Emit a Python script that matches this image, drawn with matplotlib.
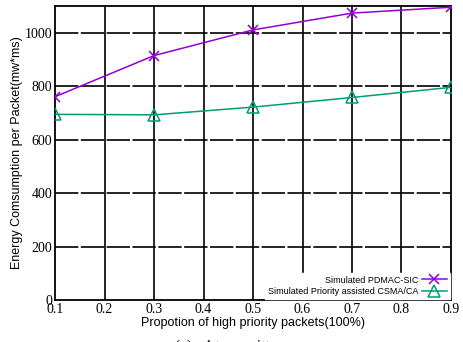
import matplotlib.pyplot as plt

x = [0.1, 0.3, 0.5, 0.7, 0.9]
pdmac = [761, 915, 1011, 1074, 1096]
csma = [695, 693, 722, 758, 796]
xticks = [0.1, 0.2, 0.3, 0.4, 0.5, 0.6, 0.7, 0.8, 0.9]
yticks = [0, 200, 400, 600, 800, 1000]

fig = plt.figure(figsize=(4.63, 3.42), dpi=100)
ax = fig.add_axes([0.119, 0.123, 0.855, 0.859])

ax.plot(x, pdmac, color='#9400d3', marker='x', markersize=7, mew=1.1,
        linewidth=1.1, label='Simulated PDMAC-SIC', zorder=3)
ax.plot(x, csma, color='#009e73', marker='^', markersize=8, mfc='none', mew=1.1,
        linewidth=1.1, label='Simulated Priority assisted CSMA/CA', zorder=3)

# grid: solid verticals, long-dash horizontals
for t in xticks[1:-1]:
    ax.axvline(t, color='black', linewidth=1.2, zorder=1)
for t in yticks[1:]:
    ax.axhline(t, color='black', linewidth=1.2, dashes=(14, 1.5), zorder=1)

ax.set_xlim(0.1, 0.9)
ax.set_ylim(0, 1100)
ax.set_xticks(xticks)
ax.set_yticks(yticks)
ax.set_xticklabels([str(t) for t in xticks], family='Liberation Serif', fontsize=10)
ax.set_yticklabels([str(t) for t in yticks], family='Liberation Serif', fontsize=10)
ax.tick_params(direction='in', length=0, pad=2)
for s in ax.spines.values():
    s.set_linewidth(1.3)

ax.set_xlabel('Propotion of high priority packets(100%)', family='Liberation Sans',
              fontsize=9, labelpad=1)
ax.set_ylabel('Energy Comsumption per Packet(mw*ms)', family='Liberation Sans',
              fontsize=9, labelpad=1)

leg = ax.legend(loc='lower right', markerfirst=False, frameon=True, fancybox=False,
                edgecolor='white', framealpha=1, prop={'family': 'Liberation Sans', 'size': 6.5},
                borderpad=0.3, handlelength=2.8, handletextpad=0.4, labelspacing=0.25,
                borderaxespad=0.15)
for t in leg.get_texts():
    t.set_ha('right')
leg.set_zorder(5)

fig.text(0.5, -0.012, '(a)   4 transmitters', ha='center', va='center',
         family='Liberation Serif', fontsize=11)

fig.savefig('out.png', dpi=100)
